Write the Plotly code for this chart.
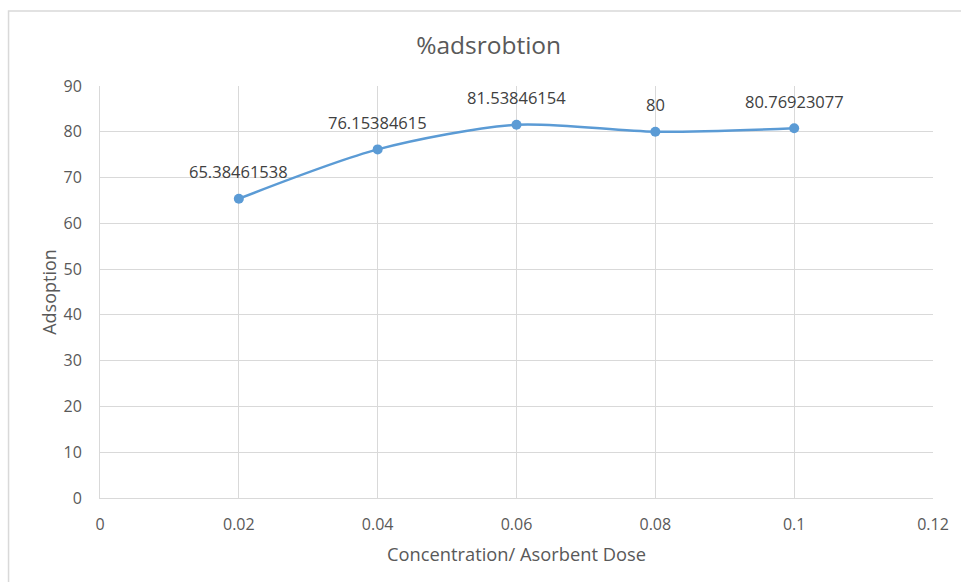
import plotly.graph_objects as go

# Adsorbent dose vs. percentage adsorption
dose = [0.02, 0.04, 0.06, 0.08, 0.1]
adsorption = [65.38461538, 76.15384615, 81.53846154, 80, 80.76923077]
labels = ["65.38461538", "76.15384615", "81.53846154", "80", "80.76923077"]
x_ticks = [0, 0.02, 0.04, 0.06, 0.08, 0.1, 0.12]
x_tick_text = ["0", "0.02", "0.04", "0.06", "0.08", "0.1", "0.12"]
y_ticks = [0, 10, 20, 30, 40, 50, 60, 70, 80, 90]

FONT = "Open Sans, Liberation Sans, sans-serif"
GRID = "#D9D9D9"
TEXT = "#595959"
BLUE = "#5B9BD5"

L, R, T, B = 100, 23, 86, 84
plot_w = 961 - L - R
plot_h = 582 - T - B

fig = go.Figure()
fig.add_trace(go.Scatter(
    x=dose, y=adsorption, mode="lines+markers",
    line=dict(color=BLUE, width=2.5, shape="spline", smoothing=0.8),
    marker=dict(color=BLUE, size=10),
    hoverinfo="x+y", showlegend=False,
))

# value labels above each point
for xv, yv, t in zip(dose, adsorption, labels):
    fig.add_annotation(
        x=xv, y=yv, xref="x", yref="y", text=t, showarrow=False,
        yanchor="middle", yshift=27,
        font=dict(family=FONT, size=16.5, color="#404040"),
    )

# outer chart border
fig.add_shape(type="rect", xref="paper", yref="paper",
              x0=-92 / plot_w, y0=-0.25, x1=1.2, y1=1 + 75 / plot_h,
              line=dict(color=GRID, width=1.5), layer="below")

fig.update_layout(
    width=961, height=582,
    margin=dict(l=L, r=R, t=T, b=B),
    paper_bgcolor="white", plot_bgcolor="white",
    title=dict(text="%adsrobtion", x=(491 - L) / plot_w, xref="paper",
               xanchor="center", y=1 - 45 / 582, yanchor="middle",
               font=dict(family=FONT, size=24.5, color=TEXT)),
    font=dict(family=FONT, color=TEXT),
    xaxis=dict(
        range=[0, 0.12], tickvals=x_ticks, ticktext=x_tick_text,
        showgrid=True, gridcolor=GRID, gridwidth=1,
        showline=True, linecolor=GRID, linewidth=1,
        zeroline=False, ticks="", ticklen=0, ticklabelstandoff=12,
        tickfont=dict(family=FONT, size=16, color=TEXT),
        title=dict(text="Concentration/ Asorbent Dose", standoff=13,
                   font=dict(family=FONT, size=18.3, color=TEXT)),
    ),
    yaxis=dict(
        range=[0, 90], tickvals=y_ticks,
        showgrid=True, gridcolor=GRID, gridwidth=1,
        showline=True, linecolor=GRID, linewidth=1,
        zeroline=False, ticks="", ticklen=0, ticklabelstandoff=14,
        tickfont=dict(family=FONT, size=16, color=TEXT),
        title=dict(text="Adsoption", standoff=2,
                   font=dict(family=FONT, size=18, color=TEXT)),
    ),
)

fig.write_html("out.html")
